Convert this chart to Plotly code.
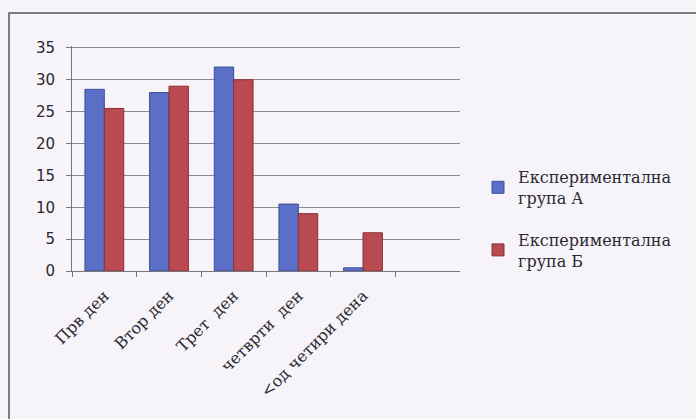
import plotly.graph_objects as go

categories = ["Прв ден", "Втор ден", "Трет  ден", "четврти  ден", "&lt;од четири дена"]
group_a = [28.5, 28, 32, 10.5, 0.5]
group_b = [25.5, 29, 30, 9, 6]
series_names = ["Експериментална<br>група А", "Експериментална<br>група Б"]
y_ticks = [0, 5, 10, 15, 20, 25, 30, 35]

W, H = 696, 419
x0, x1 = 72, 460
y_bot, y_top = 271, 46

fig = go.Figure()
fig.add_bar(x=categories, y=group_a, name=series_names[0], legendgroup="a",
            marker=dict(color="#5b6fc6", line=dict(color="#3c4f9e", width=1)))
fig.add_bar(x=categories, y=group_b, name=series_names[1], legendgroup="b",
            marker=dict(color="#b94a52", line=dict(color="#8a2f36", width=1)))

fig.update_layout(
    width=W, height=H,
    margin=dict(l=0, r=0, t=0, b=0, autoexpand=False),
    paper_bgcolor="#f6f3f9",
    plot_bgcolor="rgba(0,0,0,0)",
    barmode="group", bargap=0.4, bargroupgap=0.0,
    xaxis=dict(domain=[x0 / W, x1 / W], range=[-0.5, 5.5], automargin=False,
               tickangle=-45, showgrid=False, showline=True,
               linecolor="#777", ticks="outside", ticklen=5, tickcolor="#777",
               tickson="boundaries", ticklabelstandoff=8,
               tickfont=dict(family="DejaVu Serif", size=16, color="#2a2a30"),
               categoryorder="array", categoryarray=categories),
    yaxis=dict(domain=[(H - y_bot) / H, (H - y_top) / H], range=[0, 35.3],
               automargin=False,
               tickvals=y_ticks, showgrid=True, gridcolor="#8c8c90", gridwidth=1,
               showline=True, linecolor="#777", ticks="outside", ticklen=5,
               tickcolor="#777", zeroline=False, ticklabelstandoff=8,
               tickfont=dict(family="DejaVu Sans", size=15, color="#2a2a30")),
    legend=dict(x=478 / W, y=1 - 160 / H, xanchor="left", yanchor="top",
                font=dict(family="DejaVu Serif", size=16, color="#2a2a30"),
                bgcolor="rgba(0,0,0,0)", tracegroupgap=18, itemwidth=30),
    showlegend=True,
)

# outer chart border
fig.add_shape(type="rect", xref="paper", yref="paper",
              x0=9 / W, x1=1.2, y0=-0.2, y1=1 - 13 / H,
              line=dict(color="#555", width=1.5), fillcolor="rgba(0,0,0,0)")

fig.write_html("out.html")
